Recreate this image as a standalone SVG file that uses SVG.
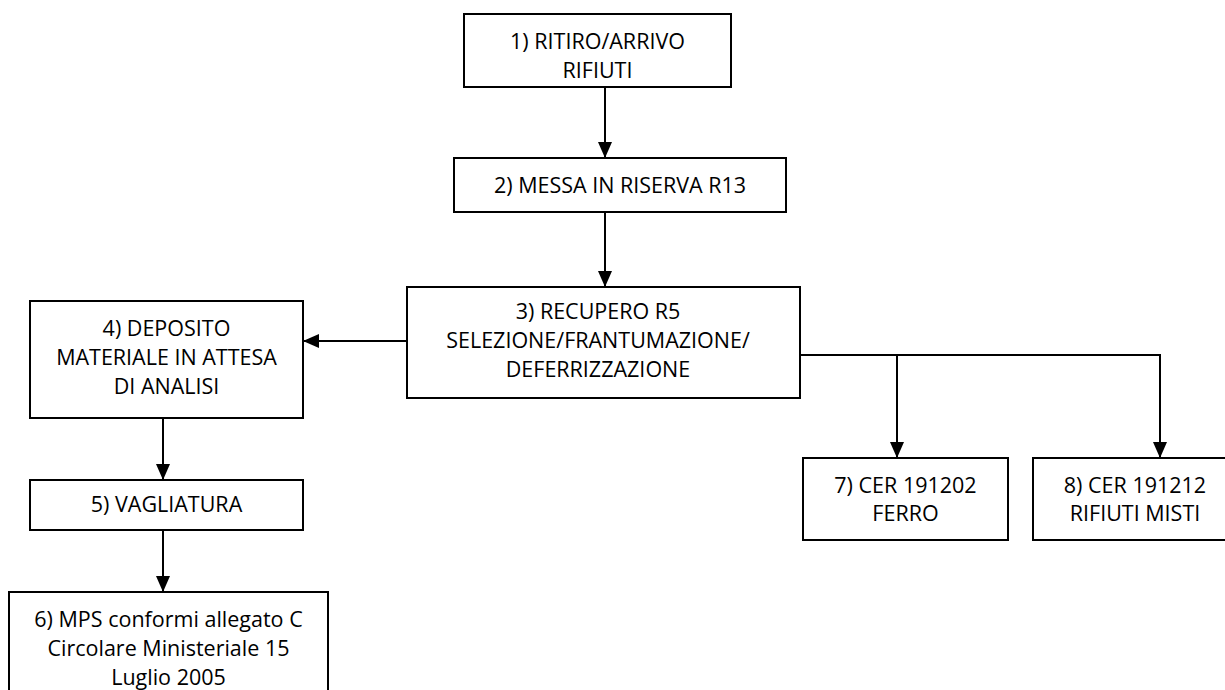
<svg xmlns="http://www.w3.org/2000/svg" width="1225" height="690" viewBox="0 0 1225 690">
<style>
.box{fill:#fff;stroke:#000;stroke-width:2}
.t{font-family:"Open Sans","Liberation Sans",sans-serif;font-size:21.5px;fill:#000;text-anchor:middle}
.c{fill:none;stroke:#000;stroke-width:2}
</style>
<defs>
<marker id="ah" markerWidth="16" markerHeight="14" refX="16" refY="7" orient="auto" markerUnits="userSpaceOnUse">
<path d="M0,0 L16,7 L0,14 Z" fill="#000"/>
</marker>
</defs>
<rect width="1225" height="690" fill="#fff"/>
<g id="connectors">
<path class="c" d="M605,87 V158" marker-end="url(#ah)"/>
<path class="c" d="M605,212 V287" marker-end="url(#ah)"/>
<path class="c" d="M407,341 H303" marker-end="url(#ah)"/>
<path class="c" d="M800,355 H1160 V458" marker-end="url(#ah)"/>
<path class="c" d="M897,355 V458" marker-end="url(#ah)"/>
<path class="c" d="M163,418 V480" marker-end="url(#ah)"/>
<path class="c" d="M163,530 V592" marker-end="url(#ah)"/>
</g>
<g id="n1">
<rect class="box" x="464" y="14" width="267" height="73"/>
<text class="t" x="597.5" y="49">1) RITIRO/ARRIVO</text>
<text class="t" x="597.5" y="78">RIFIUTI</text>
</g>
<g id="n2">
<rect class="box" x="454" y="158" width="332" height="54"/>
<text class="t" x="620" y="193">2) MESSA IN RISERVA R13</text>
</g>
<g id="n3">
<rect class="box" x="407" y="287" width="393" height="111"/>
<text class="t" x="598" y="319">3) RECUPERO R5</text>
<text class="t" x="598" y="348">SELEZIONE/FRANTUMAZIONE/</text>
<text class="t" x="598" y="377">DEFERRIZZAZIONE</text>
</g>
<g id="n4">
<rect class="box" x="30" y="301" width="273" height="117"/>
<text class="t" x="166.5" y="336">4) DEPOSITO</text>
<text class="t" x="166.5" y="365">MATERIALE IN ATTESA</text>
<text class="t" x="166.5" y="394">DI ANALISI</text>
</g>
<g id="n5">
<rect class="box" x="30" y="480" width="273" height="50"/>
<text class="t" x="166.5" y="512">5) VAGLIATURA</text>
</g>
<g id="n6">
<rect class="box" x="9" y="592" width="319" height="110"/>
<text class="t" x="168.5" y="627">6) MPS conformi allegato C</text>
<text class="t" x="168.5" y="656">Circolare Ministeriale 15</text>
<text class="t" x="168.5" y="685">Luglio 2005</text>
</g>
<g id="n7">
<rect class="box" x="803" y="458" width="205" height="82"/>
<text class="t" x="905.5" y="493">7) CER 191202</text>
<text class="t" x="905.5" y="521">FERRO</text>
</g>
<g id="n8">
<rect class="box" x="1033" y="458" width="204" height="82"/>
<text class="t" x="1135" y="493">8) CER 191212</text>
<text class="t" x="1135" y="521">RIFIUTI MISTI</text>
</g>
</svg>
